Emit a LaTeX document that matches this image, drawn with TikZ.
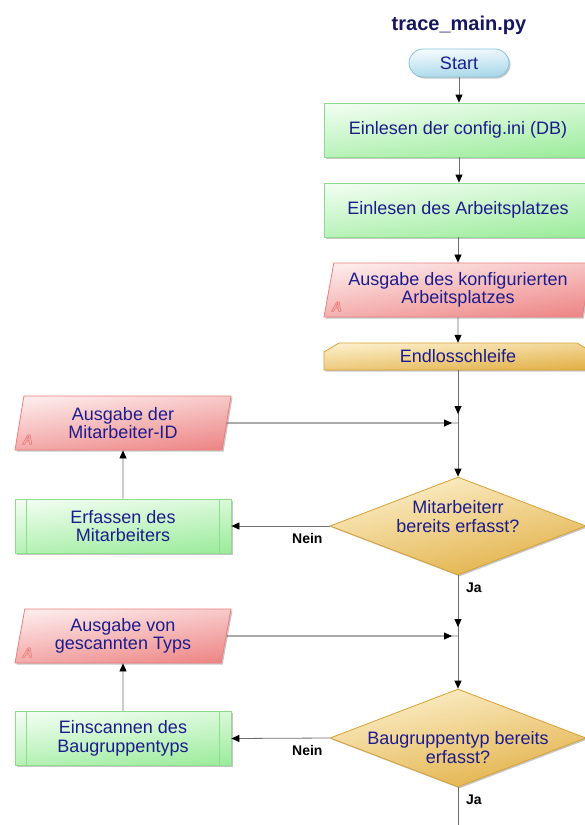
\documentclass[tikz,border=0pt]{standalone}
\usepackage{fontspec}
\setmainfont{Liberation Sans}
\usetikzlibrary{arrows.meta,shapes.geometric,shadows,calc}

\definecolor{navy}{RGB}{28,28,140}
\definecolor{titleblue}{RGB}{22,22,96}
\definecolor{grnT}{RGB}{240,253,240}
\definecolor{grnB}{RGB}{158,236,158}
\definecolor{grnD}{RGB}{140,222,140}
\definecolor{redT}{RGB}{253,234,234}
\definecolor{redB}{RGB}{238,136,136}
\definecolor{redD}{RGB}{236,126,126}
\definecolor{goldT}{RGB}{252,240,204}
\definecolor{goldB}{RGB}{226,176,70}
\definecolor{goldD}{RGB}{214,160,52}
\definecolor{bluT}{RGB}{246,252,255}
\definecolor{bluB}{RGB}{166,214,232}
\definecolor{bluD}{RGB}{136,194,220}
\definecolor{lineg}{RGB}{110,110,110}
\definecolor{amark}{RGB}{247,178,178}
\definecolor{amarkD}{RGB}{232,112,112}

\begin{document}
\begin{tikzpicture}[x=1pt,y=-1pt,
  every node/.style={font=\fontsize{18}{18.5}\selectfont, text=navy},
  softshadow/.style={drop shadow={shadow xshift=1.5pt,shadow yshift=-1.5pt,fill=black,opacity=0.22}},
  procbox/.style={rectangle, draw=grnD, line width=0.8pt, top color=grnT, bottom color=grnB,
    shading angle=6, minimum height=54pt, inner sep=2pt, align=center, softshadow},
  outbox/.style={trapezium, trapezium left angle=76, trapezium right angle=104,
    trapezium stretches body=true, draw=redD, line width=0.8pt, top color=redT, bottom color=redB,
    shading angle=8, minimum height=54pt, inner sep=2pt, align=center, softshadow},
  startbox/.style={rectangle, rounded corners=14pt, draw=bluD, line width=0.8pt, top color=bluT,
    bottom color=bluB, shading angle=3, minimum width=100pt, minimum height=28pt, inner sep=0pt, softshadow},
  loopshape/.style={draw=goldD, line width=0.8pt, top color=goldT, bottom color=goldB, shading angle=4, softshadow},
  decision/.style={diamond, draw=goldD, line width=0.8pt, top color=goldT, bottom color=goldB,
    shading angle=12, minimum width=256pt, minimum height=98pt, inner sep=0pt, softshadow},
  flow/.style={draw=lineg, line width=0.8pt},
  conn/.style={draw=lineg, line width=0.8pt, -{Triangle[length=8pt,width=7pt,color=black]}},
  lbl/.style={font=\bfseries\fontsize{14}{16}\selectfont, text=black, inner sep=0pt},
  amk/.style={font=\bfseries\itshape\fontsize{14}{16}\selectfont, text=amark, inner sep=0pt},
  sideline/.style={draw=grnD, line width=0.8pt}
]
\useasboundingbox (0,0) rectangle (584,825);

% title and start
\node[font=\bfseries\fontsize{20}{22}\selectfont, text=titleblue, anchor=base] (title) at (459,30) {trace\_main.py};
\node[startbox] (start) at (459,63) {Start};

% main column
\node[procbox, minimum width=268pt] (b1) at (458,130) {Einlesen der config.ini (DB)};
\node[procbox, minimum width=268pt] (b2) at (458,210) {Einlesen des Arbeitsplatzes};
\node[outbox, minimum width=268pt] (o1) at (458,290) {Ausgabe des konfigurierten\\Arbeitsplatzes};
\node[amk, anchor=base west] (a1) at ($(o1.bottom left corner)+(8,-6)$)
  {\special{pdf:literal direct 2 Tr 0.5 w 0.91 0.44 0.44 RG}A\special{pdf:literal direct 0 Tr}};

% loop limit with chamfered top corners
\path[loopshape] (324,370) -- (324,352) -- (339,343) -- (577,343) -- (592,352) -- (592,370) -- cycle;
\node[minimum width=268pt, minimum height=27pt, inner sep=0pt] (loop) at (458,356.5) {Endlosschleife};

\coordinate (j1) at (458,423);
\node[decision] (d1) at (458,526) {};
\node[align=center] (d1t) at (458,516.5) {Mitarbeiterr\\bereits erfasst?};

\coordinate (j2) at (458,636);
\node[decision] (d2) at (458,738) {};
\node[align=center] (d2t) at (458,747.5) {Baugruppentyp bereits\\erfasst?};

\coordinate (exit) at (458,836);

% left column
\node[outbox, minimum width=216pt] (o2) at (123,423) {Ausgabe der\\Mitarbeiter-ID};
\node[amk, anchor=base west] (a2) at ($(o2.bottom left corner)+(8,-6)$)
  {\special{pdf:literal direct 2 Tr 0.5 w 0.91 0.44 0.44 RG}A\special{pdf:literal direct 0 Tr}};
\node[procbox, minimum width=216pt] (e1) at (123,526) {Erfassen des\\Mitarbeiters};
\draw[sideline] ($(e1.north west)+(12,0)$) -- ($(e1.south west)+(12,0)$);
\draw[sideline] ($(e1.north east)+(-12,0)$) -- ($(e1.south east)+(-12,0)$);

\node[outbox, minimum width=216pt] (o3) at (123,636) {Ausgabe von\\gescannten Typs};
\node[amk, anchor=base west] (a3) at ($(o3.bottom left corner)+(8,-6)$)
  {\special{pdf:literal direct 2 Tr 0.5 w 0.91 0.44 0.44 RG}A\special{pdf:literal direct 0 Tr}};
\node[procbox, minimum width=216pt] (e2) at (123,738.5) {Einscannen des\\Baugruppentyps};
\draw[sideline] ($(e2.north west)+(12,0)$) -- ($(e2.south west)+(12,0)$);
\draw[sideline] ($(e2.north east)+(-12,0)$) -- ($(e2.south east)+(-12,0)$);

% connectors
\draw[conn] (start.south) -- (b1.north -| start.south);
\draw[conn] (b1.south -| start.south) -- (b2.north -| start.south);
\draw[conn] (b2) -- (o1);
\draw[conn] (o1) -- (loop);
\draw[flow] (loop.south) -- (j1);
\draw[conn, shorten >=9pt] (loop.south) -- (j1);
\draw[flow] (o2.east) -- (j1);
\draw[conn, shorten >=6pt] (o2.east) -- (j1);
\draw[conn] (j1) -- (d1.north);
\draw[conn] (d1.west) -- (e1.east);
\draw[conn] (e1.north) -- (o2.south);
\draw[flow] (d1.south) -- (j2);
\draw[conn, shorten >=9pt] (d1.south) -- (j2);
\draw[flow] (o3.east) -- (j2);
\draw[conn, shorten >=6pt] (o3.east) -- (j2);
\draw[conn] (j2) -- (d2.north);
\draw[conn] (d2.west) -- (e2.east);
\draw[conn] (e2.north) -- (o3.south);
\draw[conn] (d2.south) -- (exit);

% branch labels
\node[lbl, anchor=base west] (n1) at (292,543) {Nein};
\node[lbl, anchor=base west] (y1) at (466,592) {Ja};
\node[lbl, anchor=base west] (n2) at (292,755) {Nein};
\node[lbl, anchor=base west] (y2) at (466,804) {Ja};
\end{tikzpicture}
\end{document}
